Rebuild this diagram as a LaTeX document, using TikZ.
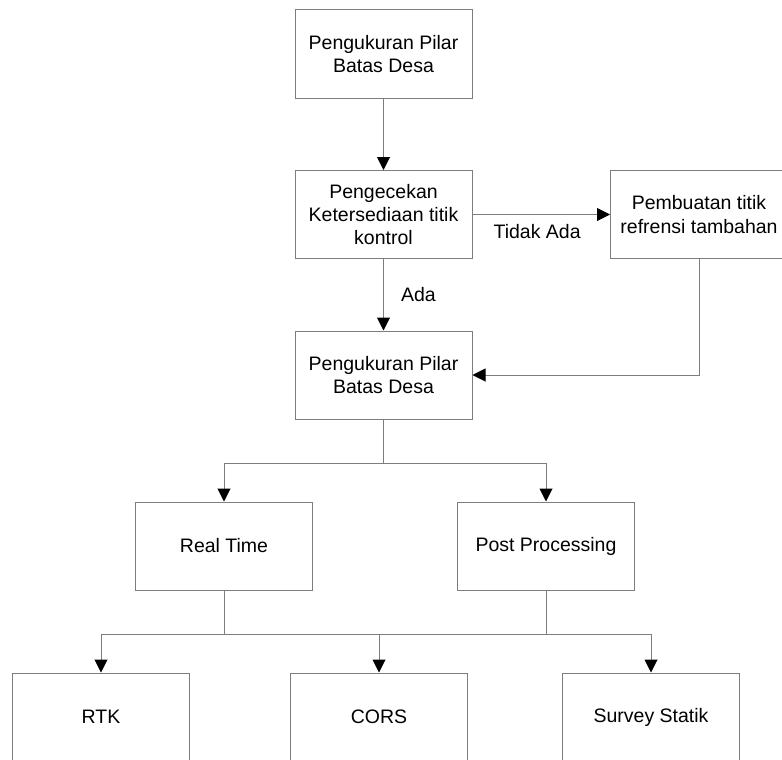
\documentclass[tikz,border=0pt]{standalone}
\usepackage{fontspec}
\setmainfont{Liberation Sans}
\usetikzlibrary{arrows.meta}
\definecolor{linec}{RGB}{125,125,125}
\begin{document}
\begin{tikzpicture}[x=1pt,y=1pt,
  box/.style={draw=linec,line width=1pt,minimum width=177pt,minimum height=88pt,inner sep=0pt,align=center,
    font=\fontsize{19.5}{23.3}\selectfont},
  lbl/.style={font=\fontsize{19.5}{23.3}\selectfont,inner sep=0pt},
  conn/.style={draw=linec,line width=1pt},
  arr/.style={conn,-{Triangle[width=13pt,length=13pt,color=black,fill=black]}}]
\useasboundingbox (0,0) rectangle (782,-760);
\node[box] (b1) at (383.5,-54) {Pengukuran Pilar\\Batas Desa};
\node[box] (b2) at (383.5,-214.5) {Pengecekan\\Ketersediaan titik\\kontrol};
\node[box] (b3) at (699,-214.5) {Pembuatan titik\\refrensi tambahan};
\node[box] (b4) at (383.5,-375) {Pengukuran Pilar\\Batas Desa};
\node[box] (rt) at (224,-546) {Real Time};
\node[box] (pp) at (546,-546) {Post Processing};
\node[box] (rtk) at (101,-717) {RTK};
\node[box] (cors) at (379,-717) {CORS};
\node[box] (ss) at (651,-717) {Survey Statik};
\coordinate (j1) at (383.5,-463);
\coordinate (j2) at (224,-634);
\coordinate (j3) at (546,-634);
\draw[arr] (b1) -- (b2);
\draw[arr] (b2) -- (b3) node[lbl,pos=0.47,below=9pt] {Tidak Ada};
\draw[arr] (b2) -- (b4) node[lbl,pos=0.5,right=17pt] {Ada};
\draw[arr] (b3.south) |- (b4.east);
\draw[conn] (b4.south) -- (j1);
\draw[arr] (j1) -| (rt.north);
\draw[arr] (j1) -| (pp.north);
\draw[conn] (rt.south) -- (j2);
\draw[conn] (pp.south) -- (j3);
\draw[conn] (j2) -- (j3);
\draw[arr] (j2) -| (rtk.north);
\draw[arr] (j2) -| (cors.north);
\draw[arr] (j3) -| (ss.north);
\end{tikzpicture}
\end{document}
